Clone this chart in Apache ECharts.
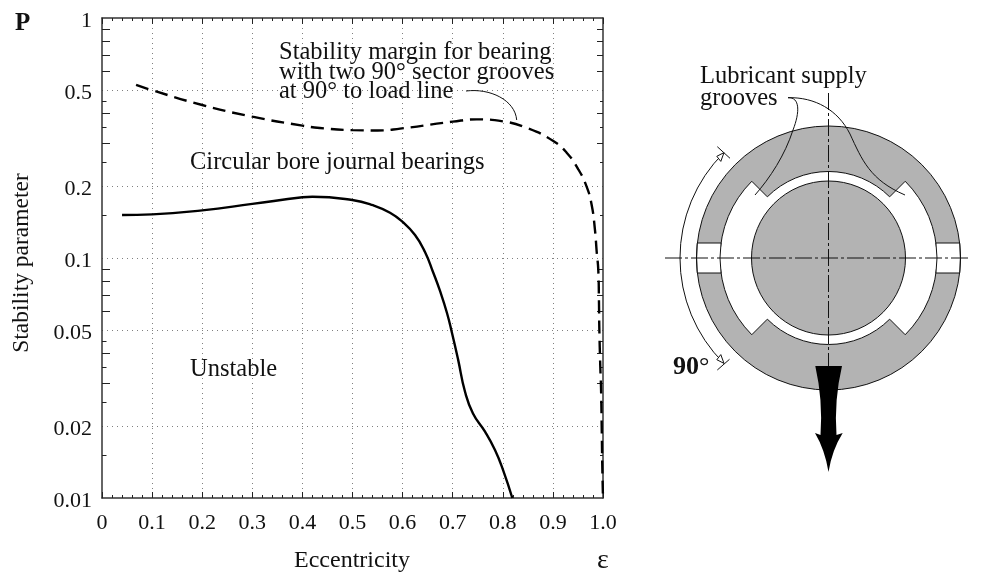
<!DOCTYPE html>
<html><head><meta charset="utf-8"><style>html,body{margin:0;background:#fff}#c{width:983px;height:572px}</style>
<script src="https://cdn.jsdelivr.net/npm/echarts@6/dist/echarts.min.js"></script></head><body><div id="c"></div>
<script>
const stableEps=[0.04,0.1,0.2,0.3,0.4,0.42,0.4996,0.5409,0.5749,0.5994,0.6248,0.6447,0.6607,0.6747,0.6886,0.6986,0.7106,0.7246,0.7405,0.7645,0.7844,0.8004,0.819];
const stableP=[0.151,0.152,0.158,0.168,0.179,0.18,0.1745,0.166,0.1544,0.1417,0.1247,0.1059,0.0874,0.0729,0.059,0.0487,0.0379,0.0277,0.0225,0.0189,0.01585,0.0131,0.01];
const marginEps=[0.068,0.1,0.2,0.3,0.4,0.435,0.5,0.55,0.595,0.7,0.748,0.8,0.85,0.9008,0.9275,0.9507,0.9675,0.9774,0.984,0.9874,0.9906,0.992,0.9926,0.9946,0.996,0.9974,0.9986,1.0];
const marginP=[0.526,0.5,0.434,0.388,0.356,0.348,0.341,0.34,0.346,0.37,0.378,0.371,0.347,0.3072,0.2746,0.2342,0.198,0.1663,0.1308,0.1062,0.0891,0.0649,0.0517,0.0352,0.0291,0.0198,0.0135,0.01];
const yLabels=[0.01,0.02,0.05,0.1,0.2,0.5,1];
const yGrid=[0.02,0.05,0.1,0.2,0.5];
const yLongTicks=[0.9,0.8,0.7,0.6,0.4,0.3,0.09,0.08,0.07,0.06,0.04,0.03];
const yShortTicks=[0.45,0.35,0.25,0.15,0.045,0.035,0.025,0.015];
const zip=(a,b)=>a.map((v,i)=>[v,b[i]]);
const F='"Liberation Serif",serif', INK='#333', TF=24.5;
const lg=a=>a.map(v=>Math.log10(v));
const chart=echarts.init(document.getElementById('c'));
const cx=828.5,cy=258,R=132,Rj=77,Rb=86.5,Rg=108.5,Rd=148.5,sl=15;
const pt=(r,deg)=>[cx+r*Math.cos(deg*Math.PI/180),cy+r*Math.sin(deg*Math.PI/180)];
const P=p=>p[0]+' '+p[1];
const arc=(r,b)=>`A${r} ${r} 0 0 1 ${P(pt(r,b))}`;
const bore=`M${P(pt(Rb,-135))} ${arc(Rb,-45)} L${P(pt(Rg,-45))} ${arc(Rg,45)} L${P(pt(Rb,45))} ${arc(Rb,135)} L${P(pt(Rg,135))} ${arc(Rg,225)} Z`;
const txt=(x,y,t,o={})=>({type:'text',silent:true,style:Object.assign({x,y,text:t,font:`${TF}px ${F}`,fill:'#111',textAlign:'left',textVerticalAlign:'middle'},o)});
const path=(d,style)=>({type:'path',silent:true,shape:{pathData:d},style});
const line=(d,w=1)=>path(d,{fill:'none',stroke:'#111',lineWidth:w});
const xO=Math.sqrt(R*R-sl*sl), xI=Math.sqrt(Rg*Rg-sl*sl);
const slotL=`M${cx-xO} ${cy-sl} L${cx-xI} ${cy-sl} L${cx-xI} ${cy+sl} L${cx-xO} ${cy+sl} Z`;
const slotR=`M${cx+xO} ${cy-sl} L${cx+xI} ${cy-sl} L${cx+xI} ${cy+sl} L${cx+xO} ${cy+sl} Z`;
const diagram=[
 {type:'circle',silent:true,shape:{cx,cy,r:R},style:{fill:'#b3b3b3',stroke:'#111',lineWidth:1}},
 path(bore,{fill:'#fff',stroke:'#111',lineWidth:1}),
 path(slotL,{fill:'#fff'}),path(slotR,{fill:'#fff'}),
 line(`M${cx-xO} ${cy-sl} L${cx-xI} ${cy-sl} M${cx-xO} ${cy+sl} L${cx-xI} ${cy+sl} M${cx+xO} ${cy-sl} L${cx+xI} ${cy-sl} M${cx+xO} ${cy+sl} L${cx+xI} ${cy+sl}`),
 line(`M${cx-xO} ${cy-sl} A${R} ${R} 0 0 0 ${cx-xO} ${cy+sl} M${cx+xO} ${cy-sl} A${R} ${R} 0 0 1 ${cx+xO} ${cy+sl} M${cx-xI} ${cy-sl} A${Rg} ${Rg} 0 0 0 ${cx-xI} ${cy+sl} M${cx+xI} ${cy-sl} A${Rg} ${Rg} 0 0 1 ${cx+xI} ${cy+sl}`),
 {type:'circle',silent:true,shape:{cx,cy,r:Rj},style:{fill:'#b3b3b3',stroke:'#111',lineWidth:1}},
 {type:'line',silent:true,shape:{x1:cx,y1:93,x2:cx,y2:366},style:{stroke:'#111',lineWidth:1,lineDash:[17,3,3,3]}},
 {type:'line',silent:true,shape:{x1:665,y1:cy,x2:971,y2:cy},style:{stroke:'#111',lineWidth:1,lineDash:[17,3,3,3]}},
 line(`M${P(pt(Rd,-135))} A${Rd} ${Rd} 0 0 0 ${P(pt(Rd,135))}`),
 line('M717.3 146.7 L730 158.3 M717.3 370 L729.5 359.3'),
 path('M724 152.6 L716.8 156.3 L720.8 161.4 Z M724 363.4 L716.8 359.7 L720.8 354.6 Z',{fill:'#fff',stroke:'#111',lineWidth:1}),
 path(`M815.3 366 L842 366 Q834 400 836.5 435 L842.7 433 Q832 450 ${cx} 472 Q825 450 815 433 L820.5 435 Q823 400 815.3 366 Z`,{fill:'#000'}),
 line('M788 97.7 C800 97 800 112 793 130 C785 155 770 178 755 195'),
 line('M788 97.7 C815 97 838 110 850 134 C862 160 870 180 905 195'),
 line('M466 91 C490 88 515 100 516.7 120'),
 txt(15,24,'P',{font:`bold 25px ${F}`}),
 txt(279,53,'Stability margin for bearing'),txt(279,73,'with two 90° sector grooves'),txt(279,92,'at 90° to load line'),
 txt(190,163,'Circular bore journal bearings'),txt(190,370,'Unstable'),
 txt(700,77,'Lubricant supply'),txt(700,99,'grooves'),
 txt(673,367,'90',{font:`bold 26px ${F}`}),txt(699,367,'°',{font:`26px ${F}`}),
 txt(352,561,'Eccentricity',{textAlign:'center',font:`24px ${F}`}),txt(603,561,'ε',{textAlign:'center',font:`28px ${F}`}),
 {type:'text',silent:true,rotation:Math.PI/2,x:22,y:263,style:{x:0,y:0,text:'Stability parameter',font:`23.5px ${F}`,fill:'#111',textAlign:'center',textVerticalAlign:'middle'}}
];
const lbl={fontFamily:F,fontSize:22,color:'#111'};
const grid={left:102,right:380,top:18,bottom:74};
const axLine={onZero:false,lineStyle:{color:INK,width:1.5}};
const tick=(length,vals,show=true)=>({show,inside:true,length,customValues:lg(vals),lineStyle:{color:'#222',width:1}});
const logAxis=(position,o)=>Object.assign({type:'value',min:-2,max:0,position,axisLine:{show:false},axisLabel:{show:false},splitLine:{show:false}},o);
const xTick={show:true,inside:true,length:6,lineStyle:{color:'#222',width:1}},xMinor={show:true,splitNumber:5,length:3,lineStyle:{color:'#222',width:1}};
const dots={type:[1,4],color:'#808080',width:1};
chart.setOption({animation:false,backgroundColor:'#fff',grid,
 xAxis:[
  {type:'value',min:0,max:1,interval:0.1,position:'bottom',axisLine:axLine,axisTick:xTick,minorTick:xMinor,
   axisLabel:Object.assign({margin:14,formatter:v=>v===0?'0':v.toFixed(1),showMinLabel:true,showMaxLabel:true},lbl),
   splitLine:{show:true,showMinLine:false,showMaxLine:false,lineStyle:dots}},
  {type:'value',min:0,max:1,interval:0.1,position:'top',axisLine:axLine,axisTick:xTick,minorTick:xMinor,axisLabel:{show:false},splitLine:{show:false}}
 ],
 yAxis:[
  {type:'log',logBase:10,min:0.01,max:1,position:'left',axisLine:axLine,axisTick:{show:false},axisLabel:{show:false},splitLine:{show:false},minorTick:{show:false},minorSplitLine:{show:false}},
  logAxis('left',{axisTick:tick(8,yLongTicks),axisLabel:Object.assign({show:true,margin:10,verticalAlign:'middle',customValues:lg(yLabels),formatter:v=>'{a|'+String(+Math.pow(10,v).toPrecision(2))+'}',rich:{a:{fontFamily:F,fontSize:22,color:'#111',padding:[6,0,0,0]}}},lbl)}),
  logAxis('right',{axisLine:axLine,axisTick:tick(6,yLongTicks)}),
  logAxis('left',{axisTick:tick(0,yGrid,false),splitLine:{show:true,lineStyle:dots}}),
  logAxis('left',{axisTick:tick(4.5,yShortTicks)}),
  logAxis('right',{axisTick:tick(3,yShortTicks)})
 ],
 series:[
  {name:'Circular bore',type:'line',smooth:0.5,symbol:'none',xAxisIndex:0,yAxisIndex:0,data:zip(stableEps,stableP),lineStyle:{color:'#000',width:2.4},z:5},
  {name:'Two 90° sector grooves',type:'line',smooth:0.5,symbol:'none',xAxisIndex:0,yAxisIndex:0,data:zip(marginEps,marginP),lineStyle:{color:'#000',width:2.4,type:[13,7]},z:5},
  {name:'diagram',type:'custom',coordinateSystem:'none',silent:true,data:[0],z:6,renderItem:()=>({type:'group',children:diagram})}
 ]});
</script></body></html>
